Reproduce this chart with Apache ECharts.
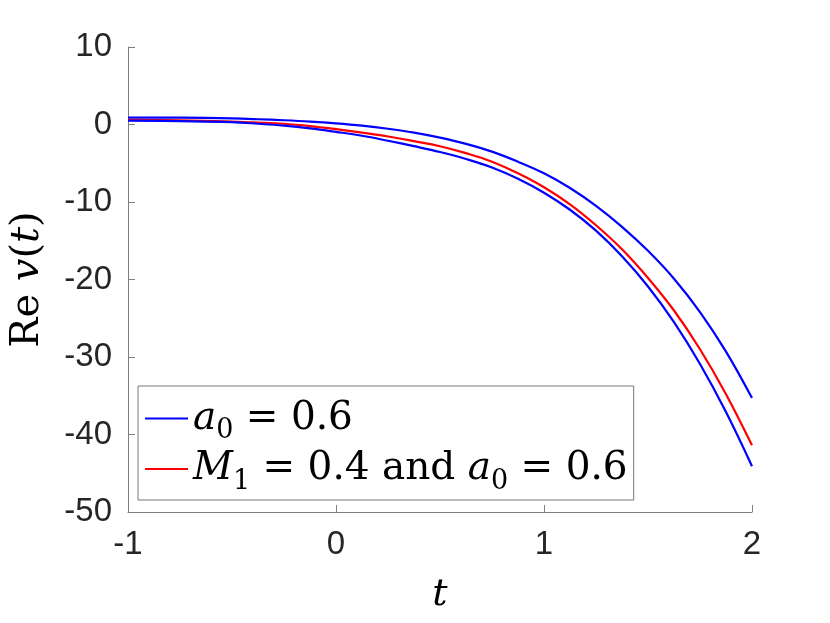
<!DOCTYPE html>
<html>
<head>
<meta charset="utf-8">
<script src="https://cdn.jsdelivr.net/npm/echarts@6/dist/echarts.min.js"></script>
<style>
  html, body { margin: 0; padding: 0; background: #fff; }
  #chart { width: 830px; height: 623px; }
</style>
</head>
<body>
<div id="chart"></div>
<script>
// values
let tValues = [-1, -0.75, -0.5, -0.375, -0.25, -0.125, 0, 0.125, 0.25, 0.375, 0.5, 0.625, 0.75, 0.875, 1, 1.125, 1.25, 1.375, 1.5, 1.625, 1.75, 1.875, 2];
let upperBlue = [0.9, 0.88, 0.78, 0.68, 0.55, 0.38, 0.15, -0.15, -0.55, -1.05, -1.7, -2.5, -3.5, -4.8, -6.3, -8.2, -10.5, -13.2, -16.3, -19.9, -24.2, -29.3, -35.3];
let redLine = [0.6, 0.53, 0.38, 0.26, 0.1, -0.2, -0.6, -1.05, -1.55, -2.15, -2.8, -3.7, -4.8, -6.3, -8.1, -10.3, -13.0, -16.1, -19.8, -24.0, -29.0, -34.8, -41.4];
let lowerBlue = [0.5, 0.43, 0.3, 0.1, -0.15, -0.5, -0.95, -1.45, -2.1, -2.8, -3.55, -4.45, -5.55, -7.0, -8.8, -11.0, -13.7, -17.0, -20.9, -25.5, -30.9, -37.1, -44.1];
let xTicks = [-1, 0, 1, 2];
let yTicks = [-50, -40, -30, -20, -10, 0, 10];

function pairs(ys) {
  return tValues.map((t, i) => [t, ys[i]]);
}

let serif = 'DejaVu Serif';
let legendNames = {
  a0: '{it|a}{sub|0}{n| = 0.6}',
  m1: '{it|M}{sub|1}{n| = 0.4 and }{it|a}{sub|0}{n| = 0.6}'
};

let chart = echarts.init(document.getElementById('chart'));

let option = {
  backgroundColor: '#fff',
  animation: false,
  grid: { left: 126, right: 78, top: 47, bottom: 111 },
  legend: {
    orient: 'vertical',
    left: 138,
    top: 386,
    padding: [13, 6, 5, 7],
    itemGap: 5,
    itemWidth: 43,
    itemHeight: 2,
    icon: 'rect',
    borderColor: '#777',
    borderWidth: 1,
    backgroundColor: '#fff',
    data: ['a0', 'm1'],
    formatter: name => legendNames[name],
    textStyle: {
      fontFamily: serif,
      fontSize: 39,
      color: '#000',
      rich: {
        n: { fontFamily: serif, fontSize: 39, lineHeight: 52, color: '#000' },
        it: { fontFamily: serif, fontSize: 39, fontStyle: 'italic', lineHeight: 52, color: '#000' },
        sub: { fontFamily: serif, fontSize: 27, lineHeight: 27, verticalAlign: 'bottom', color: '#000' }
      }
    }
  },
  xAxis: {
    type: 'value',
    min: -1,
    max: 2,
    interval: 1,
    name: '{it|t}',
    nameLocation: 'middle',
    nameGap: 64,
    nameTextStyle: {
      rich: { it: { fontFamily: serif, fontStyle: 'italic', fontSize: 38, color: '#000' } }
    },
    axisLine: { onZero: false, lineStyle: { color: '#7f7f7f', width: 1 } },
    axisTick: { inside: true, length: 7, lineStyle: { color: '#7f7f7f' } },
    axisLabel: {
      margin: 16,
      fontFamily: 'Liberation Sans',
      fontSize: 33,
      color: '#262626',
      formatter: v => xTicks.includes(v) ? String(v) : ''
    },
    splitLine: { show: false }
  },
  yAxis: {
    type: 'value',
    min: -50,
    max: 10,
    interval: 10,
    name: '{n|Re }{it|v}{n|(}{it|t}{n|)}',
    nameLocation: 'middle',
    nameGap: 80,
    nameRotate: 90,
    nameTextStyle: {
      rich: {
        n: { fontFamily: serif, fontSize: 40, color: '#000' },
        it: { fontFamily: serif, fontStyle: 'italic', fontSize: 40, color: '#000' }
      }
    },
    axisLine: { show: true, onZero: false, lineStyle: { color: '#7f7f7f', width: 1 } },
    axisTick: { show: true, inside: true, length: 7, lineStyle: { color: '#7f7f7f' } },
    axisLabel: {
      margin: 16,
      fontFamily: 'Liberation Sans',
      fontSize: 33,
      color: '#262626',
      formatter: v => yTicks.includes(v) ? String(v) : ''
    },
    splitLine: { show: false }
  },
  series: [
    {
      name: 'a0',
      type: 'line',
      data: pairs(upperBlue),
      smooth: 0.4,
      showSymbol: false,
      lineStyle: { color: '#0000ff', width: 2.2 },
      itemStyle: { color: '#0000ff' }
    },
    {
      name: 'm1',
      type: 'line',
      data: pairs(redLine),
      smooth: 0.4,
      showSymbol: false,
      lineStyle: { color: '#ff0000', width: 2.2 },
      itemStyle: { color: '#ff0000' }
    },
    {
      name: 'a0',
      type: 'line',
      data: pairs(lowerBlue),
      smooth: 0.4,
      showSymbol: false,
      lineStyle: { color: '#0000ff', width: 2.2 },
      itemStyle: { color: '#0000ff' }
    }
  ]
};

chart.setOption(option);
</script>
</body>
</html>
